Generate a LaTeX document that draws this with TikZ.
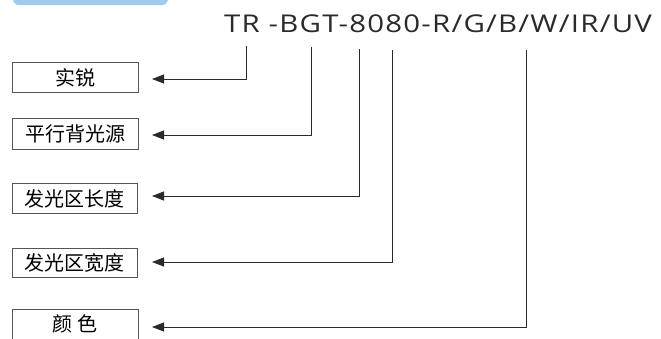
\documentclass[tikz,border=0pt]{standalone}
\usepackage{fontspec}
\setmainfont{Open Sans}
\newfontfamily\titlefont[FakeStretch=1.2,LetterSpace=5]{Open Sans}
\newfontfamily\cjk{Noto Sans CJK SC}
\usetikzlibrary{arrows.meta}
\definecolor{tabblue}{HTML}{A0CBEE}
\definecolor{linec}{HTML}{2A2A2A}
\tikzset{
  labelbox/.style={draw=linec!80, line width=0.9pt, minimum width=126pt, minimum height=30pt, inner sep=0pt, font=\cjk\fontsize{20pt}{20pt}\selectfont, anchor=north west},
  conn/.style={draw=linec, line width=1pt, -{Triangle[length=12pt,width=9pt]}}
}
\begin{document}
\begin{tikzpicture}[x=1pt,y=-1pt]
\useasboundingbox (0,0) rectangle (661,338);
\fill[tabblue, rounded corners=6pt] (13,-12) rectangle (168,5);
\node[anchor=base west, inner sep=0pt, font=\titlefont\fontsize{24.5pt}{24.5pt}\selectfont, text=linec] (title) at (224,32) {TR -BGT-8080-R/G/B/W/IR/UV};
\node[labelbox] (b1) at (12,62) {实锐};
\node[labelbox, minimum height=31pt] (b2) at (12,118) {平行背光源};
\node[labelbox, minimum width=125pt] (b3) at (12,183) {发光区长度};
\node[labelbox, minimum width=125pt, minimum height=29pt] (b4) at (12,248) {发光区宽度};
\node[labelbox, minimum height=42pt, text depth=0pt] (b5) at (12,309) {};
\node[font=\cjk\fontsize{20pt}{20pt}\selectfont, inner sep=0pt] (b5t) at (75,324) {颜 色};
\coordinate (t1) at (246,46);
\coordinate (t2) at (311,47);
\coordinate (t3) at (359,49);
\coordinate (t4) at (392,50);
\coordinate (t5) at (526,50);
\coordinate (e1) at (152,79);
\coordinate (e2) at (152,135);
\coordinate (e3) at (152,196);
\coordinate (e4) at (152,262);
\coordinate (e5) at (152,327);
\draw[conn] (t1) |- (e1);
\draw[conn] (t2) |- (e2);
\draw[conn] (t3) |- (e3);
\draw[conn] (t4) |- (e4);
\draw[conn] (t5) |- (e5);
\end{tikzpicture}
\end{document}
